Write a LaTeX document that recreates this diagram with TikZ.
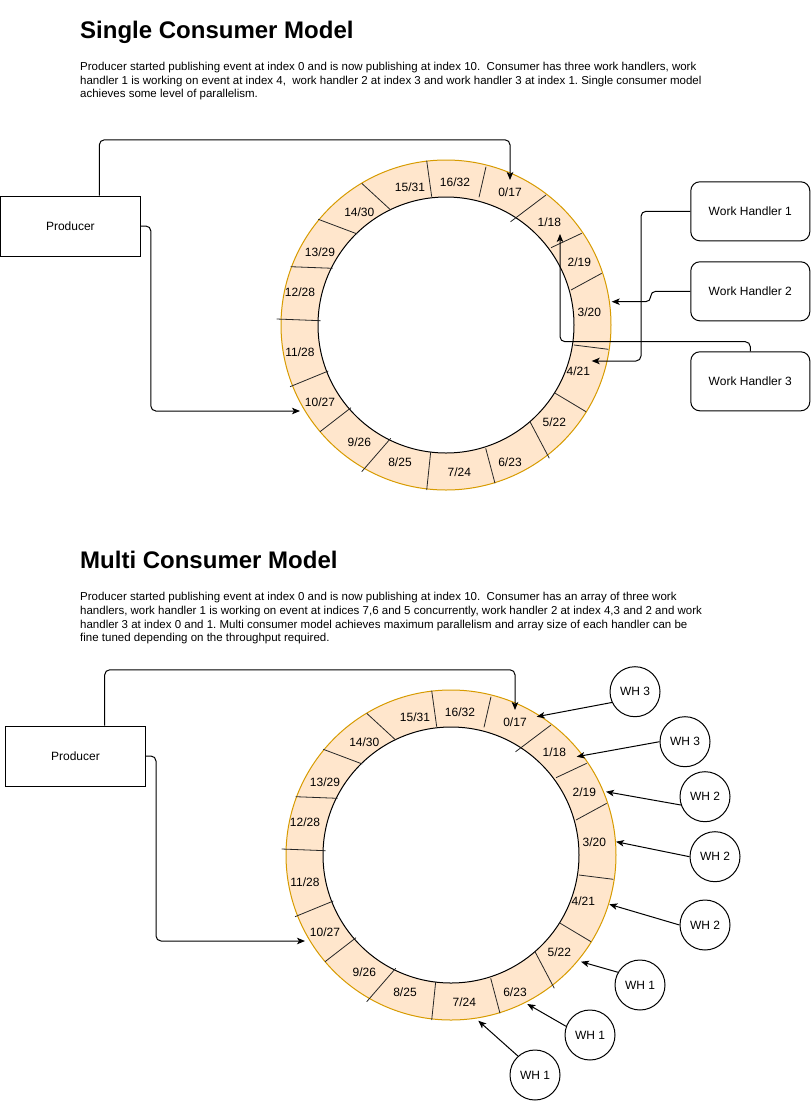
\documentclass[tikz,border=0pt]{standalone}
\usepackage{fontspec}
\setmainfont{Liberation Sans}
\usetikzlibrary{arrows.meta}
\definecolor{ringfill}{HTML}{FFE6CC}
\definecolor{ringline}{HTML}{D79B00}
\frenchspacing
\newcommand\ringbuf[1]{%
  \draw[ringline, fill=ringfill, line width=1pt] (446,325) circle[radius=165pt];
  \draw[fill=white, line width=1pt] (446,325) circle[radius=128pt];
  \foreach \a/\b/\c/\d in {426.7/160.7/431.7/196.7, 486/166.7/479/197.3, 546/195/510.5/221.8,
    581.7/233.3/551/247.7, 601.7/273.3/571/290, 608.3/349.3/574/345, 586/411.7/554.3/392.7,
    549.3/458.3/530/421.7, 495/483.3/485.7/448.3, 426.7/490/430.7/451.7, 361.7/471.7/390.7/438.3,
    320/431.7/351/407.7, 290/386.7/328.3/371, 276.7/319/320.7/320.7, 290.7/266.7/332.7/268.3,
    318.3/219.3/357.3/234, 361.7/183.3/390.7/210}
    {\draw[divider] (\a,\b) -- (\c,\d);}
  \node[seg] (#1s16) at (455,181.7) {16/32};
  \node[seg] (#1s0) at (510,191.7) {0/17};
  \node[seg] (#1s1) at (549.3,221.7) {1/18};
  \node[seg] (#1s2) at (579.3,261.7) {2/19};
  \node[seg] (#1s3) at (589.3,311.7) {3/20};
  \node[seg] (#1s4) at (578.3,371) {4/21};
  \node[seg] (#1s5) at (554.3,421.7) {5/22};
  \node[seg] (#1s6) at (510,461.7) {6/23};
  \node[seg] (#1s7) at (459.3,471.7) {7/24};
  \node[seg] (#1s8) at (400,461.7) {8/25};
  \node[seg] (#1s9) at (359.3,441.7) {9/26};
  \node[seg] (#1s10) at (320,401.7) {10/27};
  \node[seg] (#1s11) at (300,351.7) {11/28};
  \node[seg] (#1s12) at (300,291.7) {12/28};
  \node[seg] (#1s13) at (320,251.7) {13/29};
  \node[seg] (#1s14) at (359.3,211.7) {14/30};
  \node[seg] (#1s15) at (410,186.7) {15/31};
}
\begin{document}
\begin{tikzpicture}[x=1pt,y=-1pt,
  txt/.style={font=\fontsize{12}{14.4}\selectfont},
  conn/.style={draw=black, line width=1pt, -{Stealth[length=8pt,width=6.5pt,inset=2pt]}, rounded corners=5pt},
  pbox/.style={txt, draw, line width=1pt, minimum width=140pt, minimum height=60pt},
  whbox/.style={txt, draw, line width=1pt, rounded corners=9pt, minimum width=119pt, minimum height=59pt},
  whc/.style={txt, draw, circle, line width=1pt, minimum size=50pt, inner sep=0pt},
  seg/.style={txt, inner sep=0pt, text height=9pt, text depth=0pt},
  ttl/.style={font=\fontsize{24}{28}\selectfont\bfseries, anchor=base west, inner sep=0pt},
  para/.style={font=\fontsize{11.5}{13.7}\selectfont, anchor=base west, inner sep=0pt},
  divider/.style={line width=0.8pt, draw=black!85}
]
\useasboundingbox (0,0) rectangle (811,1101);

% ---------- Single consumer model ----------
\node[ttl] (t1) at (80,38.5) {Single Consumer Model};
\node[para] (p1a) at (80,70.5) {Producer started publishing event at index 0 and is now publishing at index 10.\ \ Consumer has three work handlers, work};
\node[para] (p1b) at (80,84.2) {handler 1 is working on event at index 4,\ \ work handler 2 at index 3 and work handler 3 at index 1. Single consumer model};
\node[para] (p1c) at (80,97.9) {achieves some level of parallelism.};

\ringbuf{a}

\node[pbox] (prod1) at (70.35,226) {Producer};
\node[whbox] (wh1) at (750.3,211.3) {Work Handler 1};
\node[whbox] (wh2) at (750.3,291.3) {Work Handler 2};
\node[whbox] (wh3) at (750.3,381.3) {Work Handler 3};

\coordinate (tA) at (510,180);
\coordinate (tB) at (300,411);
\coordinate (tC) at (591.7,361);
\coordinate (tD) at (611.7,301.7);
\coordinate (tE) at (560,234);

\draw[conn] ([xshift=29pt]prod1.north) -- ++(0,-55.7) -| (tA);
\draw[conn] (prod1.east) -- ++(10,0) |- (tB);
\draw[conn] (wh1.west) -- (641,211.3) |- (tC);
\draw[conn] (wh2.west) -- (650.7,291.3) -- (650.7,301.7) -- (tD);
\draw[conn] (wh3.north) -- ++(0,-9.6) -| (tE);

% ---------- Multi consumer model ----------
\node[ttl] (t2) at (80,568.5) {Multi Consumer Model};
\node[para] (p2a) at (80,600.5) {Producer started publishing event at index 0 and is now publishing at index 10.\ \ Consumer has an array of three work};
\node[para] (p2b) at (80,614.3) {handlers, work handler 1 is working on event at indices 7,6 and 5 concurrently, work handler 2 at index 4,3 and 2 and work};
\node[para] (p2c) at (80,628.1) {handler 3 at index 0 and 1. Multi consumer model achieves maximum parallelism and array size of each handler can be};
\node[para] (p2d) at (80,641.9) {fine tuned depending on the throughput required.};

\begin{scope}[shift={(5,530)}]
\ringbuf{b}
\end{scope}

\node[pbox] (prod2) at (75.5,756) {Producer};
\coordinate (tF) at (515,710);
\coordinate (tG) at (305,941);
\draw[conn] ([xshift=29.2pt]prod2.north) -- ++(0,-55.7) -| (tF);
\draw[conn] (prod2.east) -- ++(10,0) |- (tG);

\node[whc] (c1) at (635,691.7) {WH 3};
\node[whc] (c2) at (685,741.7) {WH 3};
\node[whc] (c3) at (705,796.7) {WH 2};
\node[whc] (c4) at (715,856.7) {WH 2};
\node[whc] (c5) at (705,925) {WH 2};
\node[whc] (c6) at (640,985) {WH 1};
\node[whc] (c7) at (590,1035) {WH 1};
\node[whc] (c8) at (535,1075) {WH 1};

\coordinate (u1) at (536.7,716.7);
\coordinate (u2) at (576.7,756.7);
\coordinate (u3) at (606,791.7);
\coordinate (u4) at (616,841.7);
\coordinate (u5) at (609.3,904.3);
\coordinate (u6) at (581,961.7);
\coordinate (u7) at (527.3,1004);
\coordinate (u8) at (478.3,1020.7);

\draw[conn] (c1.205) -- (u1);
\draw[conn] (c2.180) -- (u2);
\draw[conn] (c3.199) -- (u3);
\draw[conn] (c4.180) -- (u4);
\draw[conn] (c5.180) -- (u5);
\draw[conn] (c6.150) -- (u6);
\draw[conn] (c7.160) -- (u7);
\draw[conn] (c8.132) -- (u8);
\end{tikzpicture}
\end{document}
